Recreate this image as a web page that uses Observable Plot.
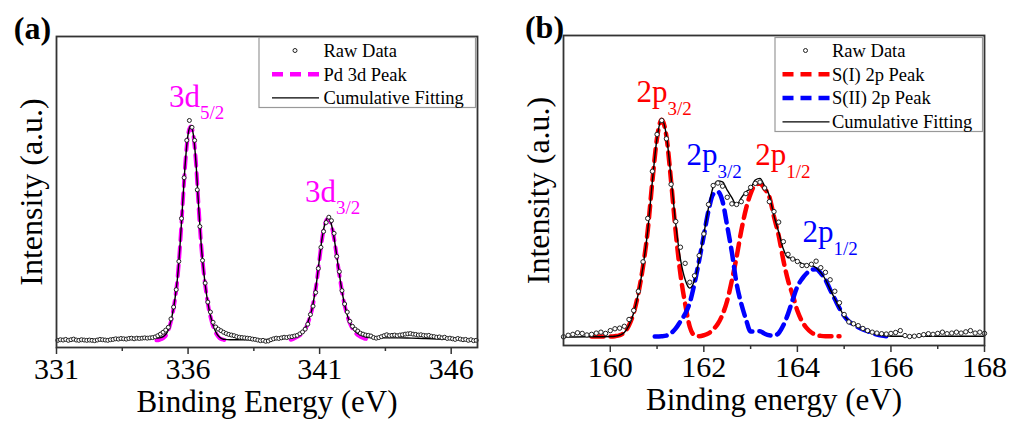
<!DOCTYPE html>
<html>
<head>
<meta charset="utf-8">
<script src="https://cdn.jsdelivr.net/npm/d3@7"></script>
<script src="https://cdn.jsdelivr.net/npm/@observablehq/plot@0.6"></script>
<style>
  html, body { margin: 0; padding: 0; background: white; }
  #wrap { position: relative; width: 1013px; height: 422px; display: flex; }
  #pa { width: 506px; height: 422px; }
  #pb { width: 507px; height: 422px; }
</style>
</head>
<body>
<div id="wrap"><div id="pa"></div><div id="pb"></div></div>
<script>
// ---------------- Panel (a): Pd 3d ----------------
const domainA = [331, 347];
const majorTicksA = [331, 336, 341, 346];
const minorTicksA = [333.5, 338.5, 343.5];
const rawAStart = 331.05, rawAStep = 0.1;
const rawIntensityA = [
  2.3, 2.5, 2.4, 2.6, 2.3, 2.5, 2.7, 2.4, 2.3, 2.5,
  2.4, 2.3, 2.4, 2.3, 2.2, 2.4, 2.6, 2.5, 2.4, 2.3,
  2.5, 2.6, 2.8, 2.7, 2.9, 2.8, 2.7, 2.9, 3.0, 2.8,
  3.0, 2.9, 3.0, 3.1, 3.0, 3.1, 3.2, 3.4, 3.8, 4.3,
  4.9, 5.6, 6.5, 9.2, 13.0, 18.6, 27.7, 41.5, 54.6, 66.6,
  73.0, 70.8, 66.6, 50.7, 38.9, 28.0, 20.7, 14.6, 11.4, 8.1,
  6.6, 5.9, 5.4, 4.9, 4.5, 4.2, 4.0, 3.8, 3.5, 3.3,
  3.2, 3.1, 3.0, 2.9, 2.7, 2.6, 2.4, 2.2, 2.3, 2.0,
  2.1, 2.5, 2.8, 3.0, 2.9, 3.1, 3.3, 3.2, 3.4, 3.5,
  3.7, 3.9, 4.4, 5.0, 5.9, 7.5, 10.6, 13.3, 17.7, 25.4,
  32.2, 37.3, 40.2, 41.9, 40.8, 36.7, 29.3, 24.4, 18.3, 14.0,
  11.4, 8.4, 6.8, 5.9, 5.3, 4.6, 4.3, 4.0, 3.9, 3.7,
  3.2, 3.0, 3.2, 3.5, 3.8, 4.1, 3.8, 3.9, 4.0, 3.8,
  4.0, 4.1, 4.3, 4.4, 4.5, 4.3, 4.2, 4.0, 4.1, 3.9,
  3.8, 3.9, 3.6, 3.5, 3.3, 3.4, 3.1, 3.3, 2.9, 3.0,
  2.8, 2.6, 2.9, 2.7, 2.5, 2.6, 2.3, 2.5, 2.2, 2.3
];
// Pd 3d fitted components (two spin-orbit peaks), [energy, intensity]
const pdPeak52 = [
  [334.8,2.3],[334.9,2.4],[335.0,2.7],[335.1,3.3],[335.2,4.5],[335.3,6.8],[335.4,10.3],
  [335.5,15.3],[335.6,22.3],[335.7,33.3],[335.8,46.8],[335.9,59.8],[336.0,68.4],[336.1,71.1],
  [336.2,68.4],[336.3,59.4],[336.4,45.4],[336.5,32.8],[336.6,23.8],[336.7,17.0],[336.8,11.9],
  [336.9,8.3],[337.0,5.7],[337.1,4.0],[337.2,3.0],[337.3,2.6],[337.4,2.4],[337.6,2.3]
];
const pdPeak32 = [
  [339.9,2.5],[340.0,2.8],[340.1,3.2],[340.2,3.7],[340.3,4.3],[340.4,5.2],[340.5,6.7],
  [340.6,9.0],[340.7,11.8],[340.8,16.3],[340.9,21.8],[341.0,28.8],[341.1,35.3],[341.2,39.6],
  [341.3,41.4],[341.4,40.6],[341.5,37.4],[341.6,32.3],[341.7,26.3],[341.8,20.6],[341.9,15.6],
  [342.0,11.8],[342.1,8.9],[342.2,6.9],[342.3,5.4],[342.4,4.4],[342.5,3.7],[342.6,3.2],
  [342.7,2.9],[342.8,2.7],[342.9,2.6]
];
const cumFitA = [
  [331,2.5],[332,2.5],[333,2.6],[334,2.8],[334.5,2.9],[334.8,3.0],[334.9,3.1],[335.0,3.3],
  [335.1,3.8],[335.2,4.8],[335.3,7.0],[335.4,10.5],[335.5,15.5],[335.6,22.5],[335.7,33.5],
  [335.8,47.0],[335.9,60.0],[336.0,68.5],[336.1,71.2],[336.2,68.5],[336.3,59.5],[336.4,45.5],
  [336.5,33.0],[336.6,24.0],[336.7,17.2],[336.8,12.2],[336.9,8.6],[337.0,6.0],[337.1,4.3],
  [337.2,3.3],[337.3,2.8],[337.4,2.6],[337.6,2.5],[338,2.5],[338.5,2.5],[339,2.6],[339.5,2.8],
  [339.8,3.0],[339.9,3.1],[340.0,3.3],[340.1,3.6],[340.2,4.0],[340.3,4.6],[340.4,5.5],
  [340.5,7.0],[340.6,9.3],[340.7,12.0],[340.8,16.5],[340.9,22.0],[341.0,29.0],[341.1,35.5],
  [341.2,39.8],[341.3,41.6],[341.4,40.8],[341.5,37.6],[341.6,32.5],[341.7,26.5],[341.8,20.8],
  [341.9,15.8],[342.0,12.0],[342.1,9.1],[342.2,7.1],[342.3,5.7],[342.4,4.8],[342.5,4.2],
  [342.6,3.8],[342.7,3.5],[342.8,3.3],[342.9,3.2],[343.5,3.1],[344,3.1],[344.5,3.0],
  [345,2.9],[346,2.6],[347,2.4]
];
const labelsA = [
  {x: 336.454, y: 77.3, main: "3d", sub: "5/2"},
  {x: 341.622, y: 46.7, main: "3d", sub: "3/2"}
];
const legendA = ["Raw Data", "Pd 3d Peak", "Cumulative Fitting"];

// ---------------- Panel (b): S 2p ----------------
const domainB = [159, 168];
const majorTicksB = [160, 162, 164, 166, 168];
const minorTicksB = [161, 163, 165, 167];
const rawBStart = 159.0, rawBStep = 0.1;
const rawIntensityB = [
  2.8, 3.3, 3.6, 4.1, 3.9, 3.4, 3.6, 4.0, 4.3, 3.9,
  4.8, 5.4, 5.6, 6.2, 8.4, 11.3, 17.5, 27.0, 41.0, 56.2,
  68.1, 72.6, 66.7, 52.0, 40.0, 31.7, 26.5, 20.4, 22.5, 29.0,
  36.0, 45.5, 51.6, 52.4, 51.4, 47.8, 45.7, 45.5, 46.4, 49.0,
  51.0, 52.3, 52.7, 50.8, 46.4, 43.2, 39.8, 33.5, 29.4, 27.9,
  27.1, 25.8, 25.8, 26.2, 27.2, 25.1, 23.6, 21.2, 17.5, 13.8,
  10.0, 7.6, 7.0, 6.4, 5.5, 4.8, 4.3, 4.0, 3.8, 3.7,
  3.9, 4.2, 4.8, 3.2, 2.9, 3.0, 3.2, 3.5, 3.8, 3.6,
  3.9, 4.3, 3.8, 4.0, 4.3, 4.0, 4.4, 4.8, 4.0, 4.3,
  3.9
];
const sIPeak = [
  [159.6,2.9],[159.8,2.9],[160.0,2.9],[160.1,3.0],[160.2,3.3],[160.3,4.2],[160.4,6.5],
  [160.5,10.5],[160.6,16.8],[160.7,25.5],[160.8,37.0],[160.9,53.0],[161.0,67.0],[161.1,72.8],
  [161.2,67.5],[161.3,53.0],[161.4,36.5],[161.5,23.0],[161.6,13.5],[161.7,6.0],[161.8,3.3],
  [161.9,3.0],[162.0,3.3],[162.1,3.9],[162.2,5.2],[162.3,7.0],[162.4,10.0],[162.5,14.5],
  [162.6,21.0],[162.7,28.5],[162.8,37.0],[162.9,44.0],[163.0,49.0],[163.1,51.8],[163.2,52.2],
  [163.3,50.5],[163.4,48.0],[163.5,41.5],[163.6,35.5],[163.7,27.5],[163.8,21.0],[163.9,16.3],
  [164.0,11.2],[164.1,7.8],[164.2,5.6],[164.3,4.2],[164.4,3.4],[164.5,3.1],[164.6,3.0],
  [164.9,3.0]
];
const sIIPeak = [
  [160.95,2.9],[161.1,3.0],[161.2,3.2],[161.3,4.0],[161.4,5.5],[161.5,7.8],[161.6,10.2],
  [161.7,13.8],[161.8,20.0],[161.9,27.5],[162.0,35.5],[162.1,43.5],[162.2,48.8],[162.3,49.6],
  [162.4,46.5],[162.5,38.5],[162.6,30.0],[162.7,20.0],[162.8,13.5],[162.9,8.5],[163.0,4.5],
  [163.1,4.5],[163.2,4.6],[163.3,3.8],[163.4,3.3],[163.5,3.2],[163.6,4.0],[163.7,6.5],
  [163.8,10.2],[163.9,14.8],[164.0,19.0],[164.1,21.5],[164.2,23.3],[164.3,24.5],[164.4,24.6],
  [164.5,23.3],[164.6,21.2],[164.7,18.0],[164.8,15.0],[164.9,12.0],[165.0,9.5],[165.1,7.8],
  [165.2,6.8],[165.3,5.9],[165.4,5.2],[165.5,4.6],[165.6,4.0],[165.7,3.5],[165.8,3.2],
  [165.9,3.0]
];
const cumFitB = [
  [159.0,2.7],[159.5,2.8],[160.0,2.9],[160.1,3.0],[160.2,3.3],[160.3,4.2],[160.4,6.5],
  [160.5,10.5],[160.6,16.8],[160.7,25.5],[160.8,37.0],[160.9,53.0],[161.0,67.0],[161.1,72.9],
  [161.2,67.7],[161.3,54.1],[161.4,39.1],[161.5,27.9],[161.6,21.3],[161.7,18.5],[161.8,21.0],
  [161.9,27.6],[162.0,35.9],[162.1,44.5],[162.2,51.1],[162.3,53.1],[162.4,52.8],[162.5,50.1],
  [162.6,47.7],[162.7,45.2],[162.8,47.6],[162.9,49.6],[163.0,50.6],[163.1,53.4],[163.2,53.9],
  [163.3,51.4],[163.4,48.4],[163.5,41.8],[163.6,36.6],[163.7,31.1],[163.8,28.3],[163.9,28.2],
  [164.0,27.3],[164.1,26.4],[164.2,26.0],[164.3,25.8],[164.4,25.1],[164.5,23.5],[164.6,21.3],
  [164.7,18.1],[164.8,15.1],[164.9,12.1],[165.0,9.6],[165.1,7.9],[165.2,6.9],[165.3,6.0],
  [165.4,5.3],[165.5,4.7],[165.6,4.1],[165.7,3.6],[165.8,3.3],[165.9,3.1],[166.0,3.0],
  [167.0,3.0],[168.0,3.0]
];
const labelsB = [
  {x: 161.223, y: 78.5, main: "2p", sub: "3/2", color: "#ff0000"},
  {x: 162.292, y: 58.1, main: "2p", sub: "3/2", color: "#0000ff"},
  {x: 163.761, y: 58.1, main: "2p", sub: "1/2", color: "#ff0000"},
  {x: 164.772, y: 33.3, main: "2p", sub: "1/2", color: "#0000ff"}
];
const legendB = ["Raw Data", "S(I) 2p Peak", "S(II) 2p Peak", "Cumulative Fitting"];

// ---------------- styling constants ----------------
const FONT = "'Liberation Serif', 'Times New Roman', serif";
const MAGENTA = "#ff00ff", RED = "#ff0000", BLUE = "#0000ff";
const FRAME = "#333";

const rawA = rawIntensityA.map((v, i) => ({x: rawAStart + i * rawAStep, y: v}));
const rawB = rawIntensityB.map((v, i) => ({x: rawBStart + i * rawBStep, y: v}));
const px = d => d[0], py = d => d[1];

function commonAxes(major, minor) {
  return [
    Plot.axisX({ticks: major, tickSize: 7, tickPadding: 3, fontSize: 30, fontFamily: FONT,
      stroke: FRAME, strokeWidth: 1.5, label: null, tickFormat: d => String(d), fill: "black"}),
    Plot.axisX({ticks: minor, tickSize: 4, tickPadding: 0, stroke: FRAME, strokeWidth: 1.5,
      label: null, tickFormat: () => ""})
  ];
}

function panelTexts(xLabel, tag, tagDx) {
  return [
    Plot.text([xLabel], {frameAnchor: "bottom", textAnchor: "middle", lineAnchor: "middle", dy: 55,
      fontSize: 31, fontFamily: FONT, fill: "black"}),
    Plot.text(["Intensity (a.u.)"], {frameAnchor: "left", textAnchor: "middle", lineAnchor: "middle",
      rotate: -90, dx: -25, fontSize: 32, fontFamily: FONT, fill: "black"}),
    Plot.text([tag], {frameAnchor: "top-left", textAnchor: "middle", lineAnchor: "middle",
      dx: tagDx, dy: -8, fontSize: 32, fontWeight: "bold", fontFamily: FONT, fill: "black"})
  ];
}

const plotA = Plot.plot({
  width: 506, height: 422,
  marginLeft: 56, marginRight: 29, marginTop: 36, marginBottom: 75,
  style: {fontFamily: FONT, background: "white", overflow: "visible"},
  x: {domain: domainA},
  y: {domain: [0, 100], axis: null},
  marks: [
    ...commonAxes(majorTicksA, minorTicksA),
    Plot.line(pdPeak52, {x: px, y: py, stroke: MAGENTA, strokeWidth: 4, strokeDasharray: "11,7", curve: "monotone-x"}),
    Plot.line(pdPeak32, {x: px, y: py, stroke: MAGENTA, strokeWidth: 4, strokeDasharray: "11,7", curve: "monotone-x"}),
    Plot.line(cumFitA, {x: px, y: py, stroke: "black", strokeWidth: 1.4, curve: "monotone-x"}),
    Plot.dot(rawA, {x: "x", y: "y", r: 2, stroke: "#222", strokeWidth: 1, fill: "white"}),
    Plot.text(labelsA, {x: "x", y: "y", text: "main", textAnchor: "end", lineAnchor: "bottom", fontSize: 31, fill: MAGENTA, fontFamily: FONT}),
    Plot.text(labelsA, {x: "x", y: "y", text: "sub", textAnchor: "start", lineAnchor: "bottom", dy: 12, fontSize: 19, fill: MAGENTA, fontFamily: FONT}),
    ...panelTexts("Binding Energy (eV)", "(a)", -24),
    Plot.frame({stroke: FRAME, strokeWidth: 1.8})
  ]
});

const plotB = Plot.plot({
  width: 507, height: 422,
  marginLeft: 57, marginRight: 29, marginTop: 35, marginBottom: 77,
  style: {fontFamily: FONT, background: "white", overflow: "visible"},
  x: {domain: domainB},
  y: {domain: [0, 100], axis: null},
  marks: [
    ...commonAxes(majorTicksB, minorTicksB),
    Plot.line(sIPeak, {x: px, y: py, stroke: RED, strokeWidth: 4.5, strokeDasharray: "12,7", curve: "monotone-x"}),
    Plot.line(sIIPeak, {x: px, y: py, stroke: BLUE, strokeWidth: 4.5, strokeDasharray: "12,7", curve: "monotone-x"}),
    Plot.line(cumFitB, {x: px, y: py, stroke: "black", strokeWidth: 1.4, curve: "monotone-x"}),
    Plot.dot(rawB, {x: "x", y: "y", r: 2.2, stroke: "#222", strokeWidth: 1, fill: "white"}),
    Plot.text(labelsB, {x: "x", y: "y", text: "main", textAnchor: "end", lineAnchor: "bottom", fontSize: 31, fill: "color", fontFamily: FONT}),
    Plot.text(labelsB, {x: "x", y: "y", text: "sub", textAnchor: "start", lineAnchor: "bottom", dy: 13, fontSize: 19, fill: "color", fontFamily: FONT}),
    ...panelTexts("Binding energy (eV)", "(b)", -19),
    Plot.frame({stroke: FRAME, strokeWidth: 1.8})
  ]
});

// ---------------- legends (swatches drawn inside each SVG) ----------------
function addLegend(svg, box, rows) {
  const g = d3.select(svg).append("g").attr("font-family", FONT).attr("font-size", 18.5)
    .attr("text-anchor", "start");
  g.append("rect").attr("x", box.x).attr("y", box.y).attr("width", box.w).attr("height", box.h)
    .attr("fill", "white").attr("stroke", "#999").attr("stroke-width", 1.2);
  rows.forEach((r, i) => {
    const cy = box.y + 13 + i * box.row;
    if (r.type === "dot") {
      g.append("circle").attr("cx", box.sx + 23).attr("cy", cy).attr("r", 2)
        .attr("fill", "white").attr("stroke", "#222").attr("stroke-width", 1);
    } else {
      g.append("line").attr("x1", box.sx).attr("x2", box.sx + 47).attr("y1", cy).attr("y2", cy)
        .attr("stroke", r.color).attr("stroke-width", r.dash ? 4.5 : 1.4)
        .attr("stroke-dasharray", r.dash ? "11,7" : null);
    }
    g.append("text").attr("x", box.tx).attr("y", cy + 6.3).attr("fill", "black")
      .attr("text-anchor", "start").text(r.label);
  });
}

addLegend(plotA, {x: 259, y: 37.5, w: 216.5, h: 70, row: 23.7, sx: 272, tx: 323.5}, [
  {type: "dot", label: legendA[0]},
  {type: "line", color: MAGENTA, dash: true, label: legendA[1]},
  {type: "line", color: "black", dash: false, label: legendA[2]}
]);
addLegend(plotB, {x: 269, y: 37.5, w: 207.5, h: 94, row: 23.8, sx: 276.5, tx: 326}, [
  {type: "dot", label: legendB[0]},
  {type: "line", color: RED, dash: true, label: legendB[1]},
  {type: "line", color: BLUE, dash: true, label: legendB[2]},
  {type: "line", color: "black", dash: false, label: legendB[3]}
]);

document.getElementById("pa").appendChild(plotA);
document.getElementById("pb").appendChild(plotB);
</script>
</body>
</html>
